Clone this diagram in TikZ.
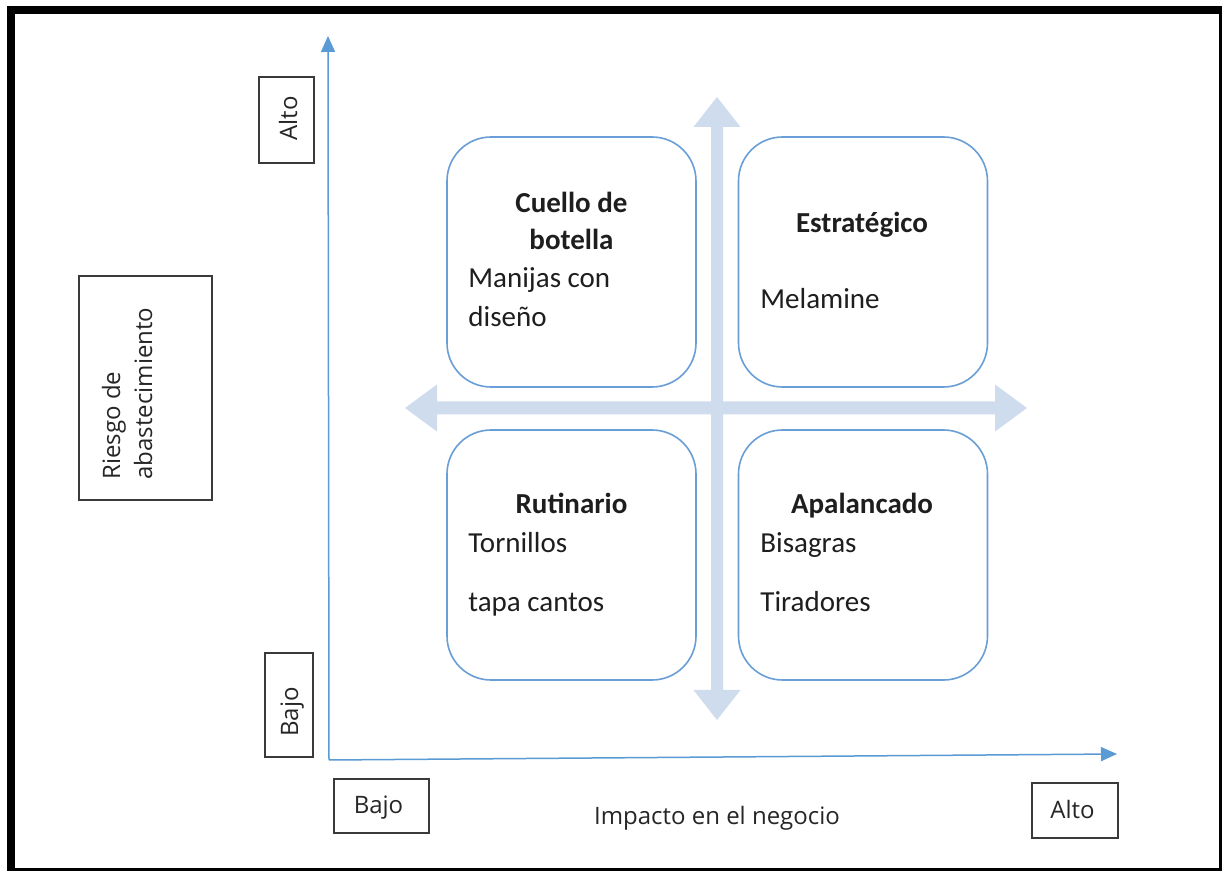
\documentclass[tikz,border=0pt]{standalone}
\usepackage{fontspec}
\setmainfont{Carlito}
\newfontfamily\osans{Open Sans}
\usetikzlibrary{arrows.meta}
\definecolor{axisblue}{HTML}{5B9BD5}
\definecolor{quadblue}{HTML}{6A9ED6}
\definecolor{crossblue}{HTML}{CFDCEE}
\definecolor{boxgray}{HTML}{3A3A3A}
\definecolor{txt}{HTML}{1E1E1E}
\begin{document}
\begin{tikzpicture}[x=0.5pt,y=-0.5pt,
  quad/.style={draw=quadblue, line width=0.8pt, rounded corners=22pt,
    minimum width=124.5pt, minimum height=125pt, inner sep=0pt},
  lblbox/.style={draw=boxgray, line width=0.75pt, inner sep=0pt, fill=white},
  qhead/.style={font=\fontsize{14.5}{17}\selectfont\bfseries, text=txt, anchor=base, inner sep=0pt},
  qtext/.style={font=\fontsize{14.5}{17}\selectfont, text=txt, anchor=base west, inner sep=0pt},
  axlbl/.style={font=\osans\fontsize{12}{14}\selectfont, text=black!85, inner sep=0pt},
  axisline/.style={draw=axisblue, line width=0.75pt, -{Triangle[length=8pt,width=7pt]}}
]
\useasboundingbox (0,0) rectangle (1222,871);
\clip (0,0) rectangle (1222,871);
\fill[white] (0,0) rectangle (1222,871);
% outer frame
\draw[line width=4pt] (11,10) rectangle (1223,872);

% light cross
\fill[crossblue] (711,127) -- (693.5,127) -- (717,97) -- (740.5,127) -- (723,127)
  -- (723,690) -- (740.5,690) -- (717,720) -- (693.5,690) -- (711,690) -- cycle;
\fill[crossblue] (437,401.5) -- (437,384.5) -- (405,408) -- (437,431.5) -- (437,414.5)
  -- (995,414.5) -- (995,431.5) -- (1027,408) -- (995,384.5) -- (995,401.5) -- cycle;

% quadrants
\node[quad] (tl) at (571.5,262) {};
\node[quad] (tr) at (863,262) {};
\node[quad] (bl) at (571.5,555) {};
\node[quad] (br) at (863,555) {};

\node[qhead] (cuello1) at (571.5,213) {Cuello de};
\node[qhead] (cuello2) at (571.5,250) {botella};
\node[qtext] (manijas1) at (468,288) {Manijas con};
\node[qtext] (manijas2) at (468,327) {diseño};

\node[qhead] (estrat) at (862,233) {Estratégico};
\node[qtext] (melamine) at (760,309) {Melamine};

\node[qhead] (rutin) at (571.5,514) {Rutinario};
\node[qtext] (tornillos) at (468,553) {Tornillos};
\node[qtext] (tapa) at (468,612) {tapa cantos};

\node[qhead] (apal) at (862,514) {Apalancado};
\node[qtext] (bisagras) at (760,553) {Bisagras};
\node[qtext] (tiradores) at (760,612) {Tiradores};

% axes
\coordinate (O) at (329,760);
\coordinate (ytop) at (328,36);
\coordinate (xend) at (1117,754);
\draw[axisline] (O) -- (ytop);
\draw[axisline] (O) -- (xend);

% label boxes
\node[lblbox, minimum width=27.5pt, minimum height=43pt] (altoYbox) at (286.5,120) {};
\node[axlbl, rotate=90, anchor=base] (altoY) at (297,118.5) {Alto};
\node[lblbox, minimum width=24pt, minimum height=52pt] (bajoYbox) at (289,705) {};
\node[axlbl, rotate=90, anchor=base] (bajoY) at (298,712) {Bajo};
\node[lblbox, minimum width=47.5pt, minimum height=27pt] (bajoXbox) at (381.5,806) {};
\node[axlbl, anchor=base] (bajoX) at (378.5,813) {Bajo};
\node[lblbox, minimum width=43pt, minimum height=27.5pt] (altoXbox) at (1075,810.5) {};
\node[axlbl, anchor=base] (altoX) at (1072.5,818) {Alto};

\node[lblbox, minimum width=66.5pt, minimum height=112pt] (riesgobox) at (145.5,388) {};
\node[axlbl, rotate=90, anchor=base west] (riesgo1) at (120,480) {Riesgo de};
\node[axlbl, rotate=90, anchor=base west] (riesgo2) at (152,480) {abastecimiento};

\node[axlbl, anchor=base] (impacto) at (717,824) {Impacto en el negocio};
\end{tikzpicture}
\end{document}
